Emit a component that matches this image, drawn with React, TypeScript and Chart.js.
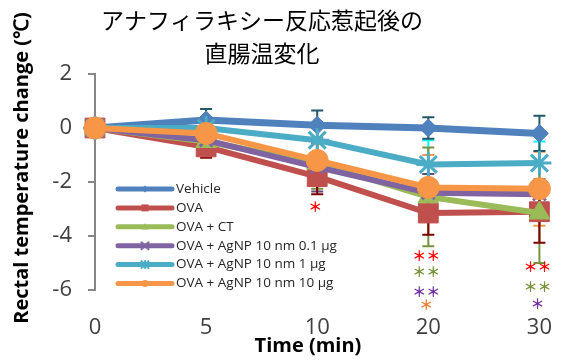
import React, { useEffect, useRef } from 'react';
import { Chart, registerables } from 'chart.js';

Chart.register(...registerables);

const titleLines = ['アナフィラキシー反応惹起後の', '直腸温変化'];
const yTitle = 'Rectal temperature change (℃)';
const xTitle = 'Time (min)';

const timeLabels = ['0', '5', '10', '20', '30'];
const seriesNames = [
  'Vehicle',
  'OVA',
  'OVA + CT',
  'OVA + AgNP 10 nm 0.1 μg',
  'OVA + AgNP 10 nm 1 μg',
  'OVA + AgNP 10 nm 10 μg',
];

const vehicle = [0, 0.3, 0.1, 0.0, -0.2];
const ova = [0, -0.7, -1.8, -3.15, -3.1];
const ovaCT = [0, -0.5, -1.3, -2.55, -3.15];
const agnp01 = [0, -0.45, -1.45, -2.4, -2.45];
const agnp1 = [0, 0.0, -0.45, -1.35, -1.3];
const agnp10 = [0, -0.2, -1.2, -2.2, -2.25];

const vehicleSd = [0, 0.4, 0.55, 0.4, 0.65];
const ovaSd = [0, 0.4, 0.65, 0.8, 1.15];
const ovaCTSd = [0, 0.3, 0.95, 1.83, 1.85];
const agnp01Sd = [0, 0.3, 0.9, 0.7, 0.55];
const agnp1Sd = [0, 0.3, 0.5, 0.9, 0.8];
const agnp10Sd = [0, 0.3, 0.6, 1.2, 1.37];

const seriesValues = [vehicle, ova, ovaCT, agnp01, agnp1, agnp10];
const seriesSds = [vehicleSd, ovaSd, ovaCTSd, agnp01Sd, agnp1Sd, agnp10Sd];

const seriesColors = ['#4F81BD', '#C0504D', '#9BBB59', '#8064A2', '#4BACC6', '#F79646'];
const errorColors = ['#215968', '#7F0000', '#77933C', '#5F497A', '#00FFFF', '#F79646'];
const markerStyles = ['rectRot', 'rect', 'triangle', 'crossRot', 'star', 'circle'];
const markerRadii = [9, 14, 12, 9, 12, 11];
const lineWidths = [7, 6, 6, 6, 6, 6];

const sigAt = ['10', '20', '20', '20', '20', '30', '30', '30'];
const sigY = [-2.93, -4.74, -5.33, -6.07, -6.56, -5.15, -5.89, -6.52];
const sigText = ['＊', '＊＊', '＊＊', '＊＊', '＊', '＊＊', '＊＊', '＊'];
const sigColor = ['#FF0000', '#FF0000', '#77933C', '#7030A0', '#ED7D31', '#FF0000', '#77933C', '#7030A0'];

function drawMarker(ctx: CanvasRenderingContext2D, style: string, x: number, y: number, r: number, color: string) {
  ctx.save();
  ctx.fillStyle = color;
  ctx.strokeStyle = color;
  ctx.lineWidth = 2;
  ctx.beginPath();
  if (style === 'circle') {
    ctx.arc(x, y, r, 0, Math.PI * 2);
    ctx.fill();
  } else if (style === 'rect') {
    ctx.rect(x - r, y - r, 2 * r, 2 * r);
    ctx.fill();
  } else if (style === 'rectRot') {
    ctx.moveTo(x, y - r);
    ctx.lineTo(x + r, y);
    ctx.lineTo(x, y + r);
    ctx.lineTo(x - r, y);
    ctx.closePath();
    ctx.fill();
  } else if (style === 'triangle') {
    ctx.moveTo(x, y - r);
    ctx.lineTo(x + r, y + r * 0.8);
    ctx.lineTo(x - r, y + r * 0.8);
    ctx.closePath();
    ctx.fill();
  } else if (style === 'crossRot') {
    ctx.moveTo(x - r, y - r);
    ctx.lineTo(x + r, y + r);
    ctx.moveTo(x + r, y - r);
    ctx.lineTo(x - r, y + r);
    ctx.stroke();
  } else {
    ctx.moveTo(x - r, y - r);
    ctx.lineTo(x + r, y + r);
    ctx.moveTo(x + r, y - r);
    ctx.lineTo(x - r, y + r);
    ctx.moveTo(x, y - r);
    ctx.lineTo(x, y + r);
    ctx.stroke();
  }
  ctx.restore();
}

const errorBarPlugin = {
  id: 'errorBars',
  beforeDatasetsDraw(chart: any) {
    const ctx = chart.ctx;
    const xs = chart.scales.x;
    const ys = chart.scales.y;
    ctx.save();
    ctx.lineWidth = 2;
    for (let i = seriesValues.length - 1; i >= 0; i--) {
      ctx.strokeStyle = errorColors[i];
      seriesValues[i].forEach((v, j) => {
        const sd = seriesSds[i][j];
        if (!sd) return;
        const x = xs.getPixelForValue(j);
        const y1 = ys.getPixelForValue(v + sd);
        const y2 = ys.getPixelForValue(v - sd);
        ctx.beginPath();
        ctx.moveTo(x, y1);
        ctx.lineTo(x, y2);
        ctx.moveTo(x - 6, y1);
        ctx.lineTo(x + 6, y1);
        ctx.moveTo(x - 6, y2);
        ctx.lineTo(x + 6, y2);
        ctx.stroke();
      });
    }
    ctx.restore();
  },
};

const annotationPlugin = {
  id: 'annotations',
  afterDraw(chart: any) {
    const ctx = chart.ctx;
    const xs = chart.scales.x;
    const ys = chart.scales.y;
    const area = chart.chartArea;
    ctx.save();
    // significance marks
    ctx.font = 'bold 14px "Noto Sans CJK JP"';
    ctx.textAlign = 'center';
    ctx.textBaseline = 'middle';
    sigText.forEach((t, k) => {
      ctx.fillStyle = sigColor[k];
      const x = xs.getPixelForValue(timeLabels.indexOf(sigAt[k])) - 2;
      ctx.fillText(t, x, ys.getPixelForValue(sigY[k]));
    });

    // title
    ctx.fillStyle = '#000000';
    ctx.font = '23px "Noto Sans CJK JP"';
    ctx.fillText(titleLines[0], 262, 20);
    ctx.fillText(titleLines[1], 262, 53);

    // axis titles
    ctx.font = 'bold 20px "Open Sans"';
    ctx.fillText(xTitle, 308, 346);
    ctx.save();
    ctx.translate(22, 168);
    ctx.rotate(-Math.PI / 2);
    ctx.fillText(yTitle, 0, 0);
    ctx.restore();

    // legend
    const lx = area.left + 23;
    const ly = area.top + 115;
    ctx.font = '13.5px "Open Sans"';
    ctx.textAlign = 'left';
    seriesNames.forEach((name, i) => {
      const y = ly + i * 18.9;
      ctx.strokeStyle = seriesColors[i];
      ctx.lineWidth = 5;
      ctx.lineCap = 'round';
      ctx.beginPath();
      ctx.moveTo(lx, y);
      ctx.lineTo(lx + 54, y);
      ctx.stroke();
      drawMarker(ctx, markerStyles[i], lx + 27, y, 3.5, seriesColors[i]);
      ctx.fillStyle = '#262626';
      ctx.fillText(name, lx + 58, y);
    });
    ctx.restore();
  },
};

export default function App() {
  const ref = useRef<HTMLCanvasElement | null>(null);
  useEffect(() => {
    if (!ref.current) return;
    const datasets = seriesNames.map((name, i) => ({
      label: name,
      data: seriesValues[i],
      borderColor: seriesColors[i],
      backgroundColor: seriesColors[i],
      borderWidth: lineWidths[i],
      tension: 0,
      fill: false,
      pointStyle: markerStyles[i],
      pointRadius: markerRadii[i],
      pointBackgroundColor: seriesColors[i],
      pointBorderColor: seriesColors[i],
      pointBorderWidth: markerStyles[i] === 'crossRot' || markerStyles[i] === 'star' ? 3 : 1,
      order: seriesNames.length - i,
      clip: false as any,
    }));
    const chart = new Chart(ref.current, {
      type: 'line',
      data: { labels: timeLabels, datasets },
      options: {
        animation: false,
        responsive: false,
        layout: { padding: { top: 74, right: 17, left: 0, bottom: 0 } },
        plugins: { legend: { display: false }, tooltip: { enabled: false }, title: { display: false } },
        scales: {
          x: {
            type: 'category',
            offset: false,
            grid: { display: false },
            border: { display: false },
            ticks: { font: { family: 'Open Sans', size: 22 }, color: '#404040', padding: 17, maxRotation: 0 },
            afterFit: (s: any) => { s.height = 73; },
          },
          y: {
            min: -6,
            max: 2,
            ticks: { stepSize: 2, font: { family: 'Open Sans', size: 22 }, color: '#404040', padding: 16 },
            grid: { drawOnChartArea: false, drawTicks: true, tickLength: 7, color: '#868686', lineWidth: 2 },
            border: { display: true, color: '#868686', width: 2 },
            afterFit: (s: any) => { s.width = 95; },
          },
        },
      },
      plugins: [errorBarPlugin, annotationPlugin],
    });
    return () => chart.destroy();
  }, []);
  return (
    <div style={{ position: 'absolute', left: 0, top: 0, width: 569, height: 363, background: '#fff' }}>
      <canvas ref={ref} width={569} height={363} />
    </div>
  );
}
